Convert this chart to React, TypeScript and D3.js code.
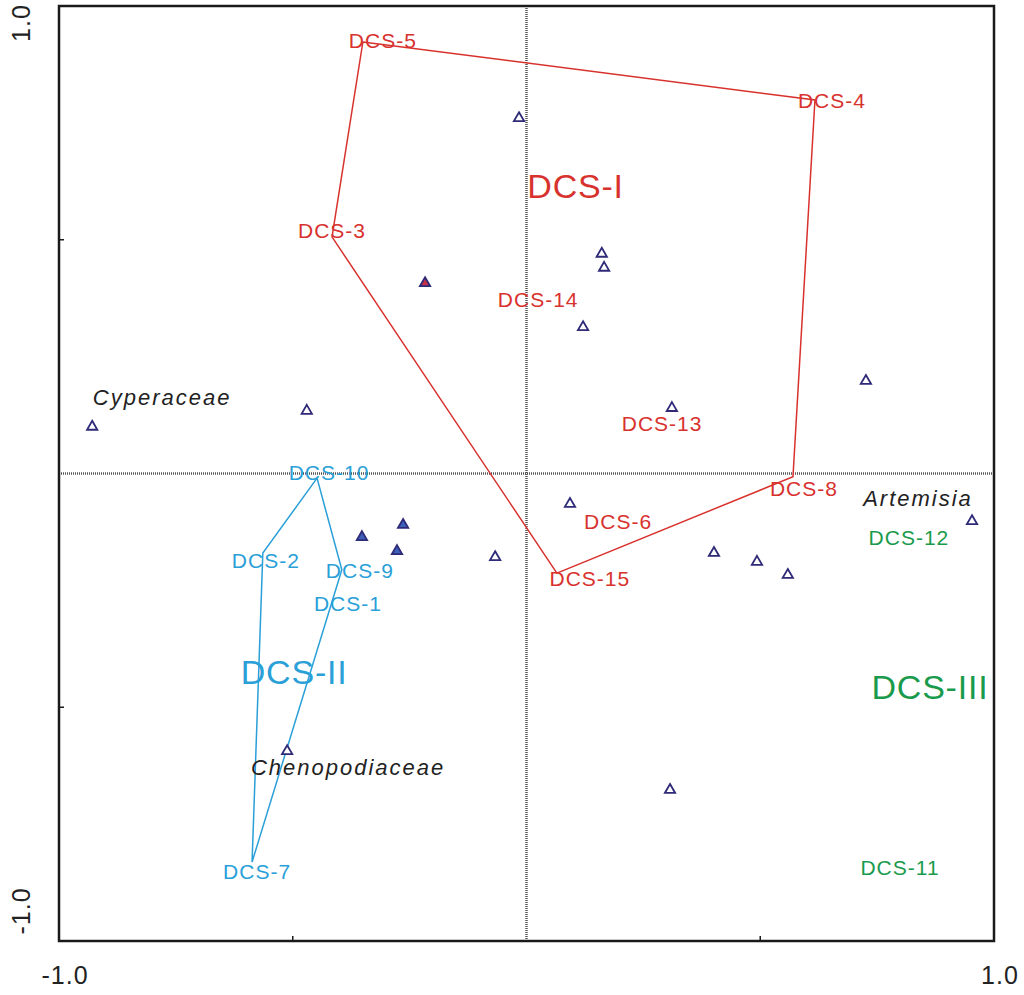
import * as d3 from "d3";
import { useEffect, useRef } from "react";

// sample scores on axes 1 and 2
const sampleNames = ["DCS-1", "DCS-2", "DCS-3", "DCS-4", "DCS-5", "DCS-6", "DCS-7", "DCS-8", "DCS-9", "DCS-10", "DCS-11", "DCS-12", "DCS-13", "DCS-14", "DCS-15"];
const sampleX = [-0.382, -0.564, -0.416, 0.617, -0.35, 0.196, -0.587, 0.57, -0.395, -0.448, 0.799, 0.818, 0.29, 0.025, 0.065];
const sampleY = [-0.279, -0.17, 0.506, 0.799, 0.923, -0.102, -0.831, -0.007, -0.206, -0.01, -0.842, -0.136, 0.108, 0.373, -0.213];
const sampleGroup = ["II", "II", "I", "I", "I", "I", "II", "I", "II", "II", "III", "III", "I", "I", "I"];

// envelope order for each group
const hullI = ["DCS-5", "DCS-4", "DCS-8", "DCS-15", "DCS-3"];
const hullII = ["DCS-10", "DCS-9", "DCS-7", "DCS-2"];

const groupNames = ["DCS-I", "DCS-II", "DCS-III"];
const groupX = [0.105, -0.497, 0.863];
const groupY = [0.615, -0.425, -0.457];

// species scores
const speciesX = [-0.016, 0.161, 0.166, -0.217, 0.121, 0.726, -0.47, -0.929, 0.311, 0.093, -0.352, -0.264, -0.277, -0.067, 0.401, 0.493, 0.559, 0.953, -0.512, 0.307];
const speciesY = [0.76, 0.47, 0.44, 0.407, 0.313, 0.198, 0.134, 0.1, 0.14, -0.065, -0.136, -0.11, -0.166, -0.179, -0.17, -0.189, -0.217, -0.102, -0.594, -0.677];
const speciesName = ["", "", "", "", "", "", "", "Cyperaceae", "", "", "", "", "", "", "", "", "", "Artemisia", "Chenopodiaceae", ""];
const speciesKind = ["o", "o", "o", "r", "o", "o", "o", "o", "o", "o", "b", "b", "b", "o", "o", "o", "o", "o", "o", "o"];

const axisTicks = [-1, -0.5, 0, 0.5, 1];

const colors: Record<string, string> = { I: "#d8322e", II: "#2a9fd8", III: "#1a9a4c" };

// label placement tweaks (pixels)
const sampleNudge: Record<string, [number, number]> = {
  "DCS-5": [20, -1], "DCS-4": [17, 1], "DCS-3": [0, -6], "DCS-8": [11, 12],
  "DCS-15": [33, 5], "DCS-10": [12, -6], "DCS-2": [3, 8], "DCS-9": [18, 1], "DCS-7": [5, 10],
};
const speciesNudge: Record<string, [number, number]> = {
  Cyperaceae: [70, -29], Artemisia: [-54, -23], Chenopodiaceae: [61, 16],
};

const App = () => {
  const ref = useRef<SVGSVGElement>(null);

  useEffect(() => {
    const svg = d3.select(ref.current);
    svg.selectAll("*").remove();
    const font = "Arial, 'Liberation Sans', sans-serif";

    const left = 59, right = 994, top = 6, bottom = 941;
    const x = d3.scaleLinear().domain([-1, 1]).range([left, right]);
    const y = d3.scaleLinear().domain([-1, 1]).range([bottom, top]);

    const samples = sampleNames.map((n, i) => ({ name: n, x: sampleX[i], y: sampleY[i], g: sampleGroup[i] }));
    const byName = new Map(samples.map((s) => [s.name, s]));

    // zero lines
    svg.append("line").attr("x1", x(0)).attr("x2", x(0)).attr("y1", top).attr("y2", bottom)
      .attr("stroke", "#555").attr("stroke-width", 2.5).attr("stroke-dasharray", "1,1");
    svg.append("line").attr("x1", left).attr("x2", right).attr("y1", y(0)).attr("y2", y(0))
      .attr("stroke", "#555").attr("stroke-width", 2.5).attr("stroke-dasharray", "1,1");

    // envelopes
    const line = d3.line<any>().x((d) => x(d.x)).y((d) => y(d.y)).curve(d3.curveLinearClosed);
    [[hullI, "I"], [hullII, "II"]].forEach(([h, g]: any) => {
      svg.append("path").attr("d", line(h.map((n: string) => byName.get(n))))
        .attr("fill", "none").attr("stroke", colors[g]).attr("stroke-width", 1.5);
    });

    // frame
    svg.append("rect").attr("x", left).attr("y", top).attr("width", right - left).attr("height", bottom - top)
      .attr("fill", "none").attr("stroke", "#1a1a1a").attr("stroke-width", 2.5);

    // inner ticks
    axisTicks.filter((t) => Math.abs(t) === 0.5).forEach((t) => {
      svg.append("line").attr("x1", left).attr("x2", left + 5).attr("y1", y(t)).attr("y2", y(t))
        .attr("stroke", "#1a1a1a").attr("stroke-width", 1.5);
      svg.append("line").attr("x1", x(t)).attr("x2", x(t)).attr("y1", bottom).attr("y2", bottom - 5)
        .attr("stroke", "#1a1a1a").attr("stroke-width", 1.5);
    });

    // tick labels at the ends
    axisTicks.filter((t) => Math.abs(t) === 1).forEach((t) => {
      svg.append("text").attr("x", x(t) + 6).attr("y", bottom + 34)
        .attr("text-anchor", "middle").attr("dominant-baseline", "central")
        .attr("font-family", font).attr("font-size", 25).attr("letter-spacing", 1).attr("fill", "#222")
        .text(t.toFixed(1));
      const cy = t > 0 ? y(t) + 17 : y(t) - 30;
      svg.append("text").attr("transform", `translate(21,${cy}) rotate(-90)`)
        .attr("text-anchor", "middle").attr("dominant-baseline", "central")
        .attr("font-family", font).attr("font-size", 25).attr("letter-spacing", 1).attr("fill", "#222")
        .text(t.toFixed(1));
    });

    // species triangles
    const tri = d3.symbol().type(d3.symbolTriangle).size(46);
    speciesX.forEach((sx, i) => {
      const k = speciesKind[i];
      svg.append("path").attr("d", tri()!)
        .attr("transform", `translate(${x(sx)},${y(speciesY[i])})`)
        .attr("fill", k === "o" ? "#fff" : k === "b" ? "#3c5fb8" : "#c8304a")
        .attr("stroke", "#2e2a78").attr("stroke-width", 1.8);
      const nm = speciesName[i];
      if (nm) {
        const [dx, dy] = speciesNudge[nm];
        svg.append("text").attr("x", x(sx) + dx).attr("y", y(speciesY[i]) + dy)
          .attr("text-anchor", "middle").attr("dominant-baseline", "central")
          .attr("font-family", font).attr("font-size", 22).attr("font-style", "italic")
          .attr("letter-spacing", 2).attr("fill", "#222").text(nm);
      }
    });

    // sample labels
    samples.forEach((s) => {
      const [dx, dy] = sampleNudge[s.name] || [0, 0];
      svg.append("text").attr("x", x(s.x) + dx).attr("y", y(s.y) + dy)
        .attr("text-anchor", "middle").attr("dominant-baseline", "central")
        .attr("font-family", font).attr("font-size", 21).attr("letter-spacing", 1)
        .attr("fill", colors[s.g]).text(s.name);
    });

    // group labels
    groupNames.forEach((g, i) => {
      svg.append("text").attr("x", x(groupX[i])).attr("y", y(groupY[i]))
        .attr("text-anchor", "middle").attr("dominant-baseline", "central")
        .attr("font-family", font).attr("font-size", 34).attr("letter-spacing", 0.8)
        .attr("fill", colors[g.replace("DCS-", "")]).text(g);
    });
  }, []);

  return (
    <svg ref={ref} width={1024} height={995}
      style={{ position: "absolute", left: 0, top: 0, background: "#fff", display: "block" }} />
  );
};

export default App;
